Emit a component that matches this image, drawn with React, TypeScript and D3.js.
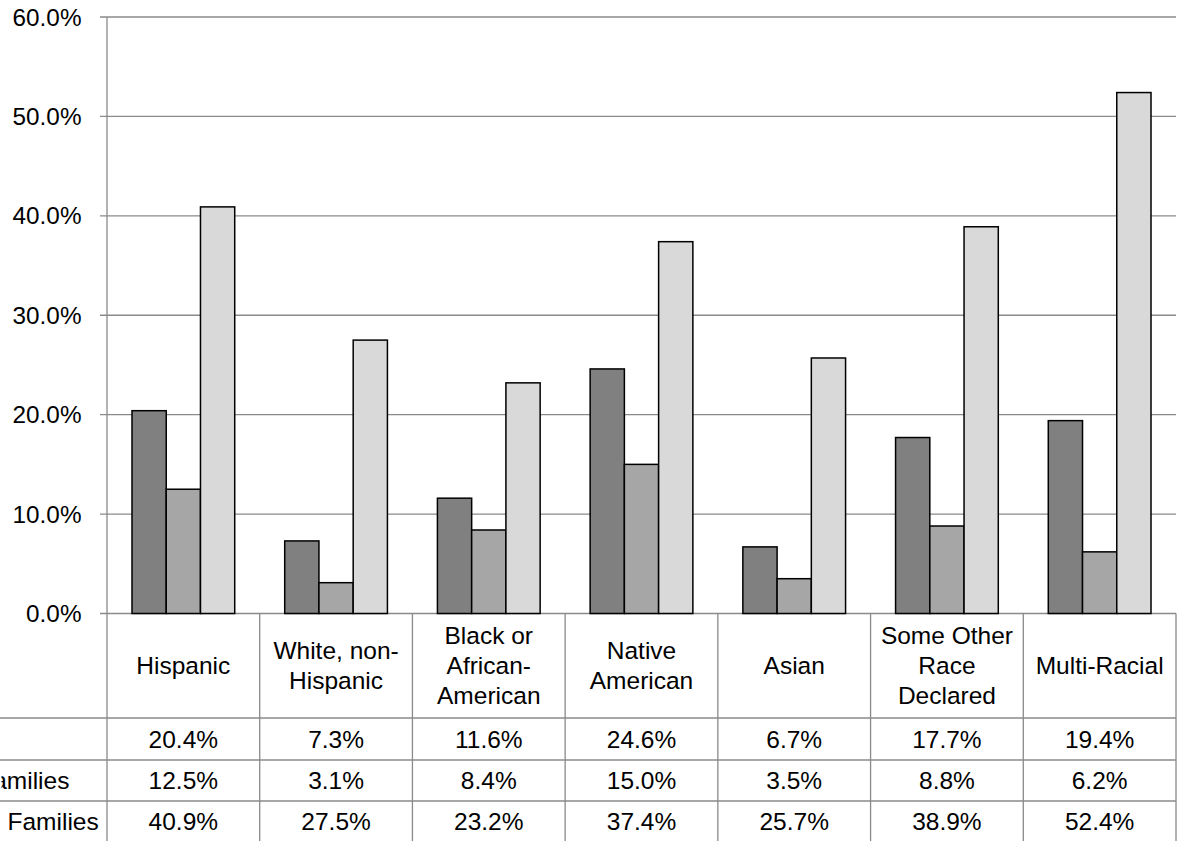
import React from 'react';
import * as d3 from 'd3';

const categoryLines: string[][] = [
  ['Hispanic'],
  ['White, non-', 'Hispanic'],
  ['Black or', 'African-', 'American'],
  ['Native', 'American'],
  ['Asian'],
  ['Some Other', 'Race', 'Declared'],
  ['Multi-Racial'],
];
const categories = categoryLines.map((l) => l.join(' '));
const seriesNames = ['All Families', 'Married-Couple Families', 'Female Householder Families'];
const allFamilies = [20.4, 7.3, 11.6, 24.6, 6.7, 17.7, 19.4];
const marriedCouple = [12.5, 3.1, 8.4, 15.0, 3.5, 8.8, 6.2];
const femaleHouseholder = [40.9, 27.5, 23.2, 37.4, 25.7, 38.9, 52.4];
const seriesValues = [allFamilies, marriedCouple, femaleHouseholder];
const seriesColors = ['#808080', '#a6a6a6', '#d9d9d9'];
const yTicks = [0, 10, 20, 30, 40, 50, 60];

const W = 1177;
const H = 841;
const FONT = "'Liberation Sans', Arial, sans-serif";
const GRID = '#8a8a8a';
const FS = 24.5;

export default function App() {
  const left = 107;
  const right = 1176;
  const top = 17;
  const bottom = 613.5;
  const headerBottom = 718;
  const rowLines = [718, 760, 801, 842];

  const y = d3.scaleLinear().domain([0, 60]).range([bottom, top]);
  const x0 = d3.scaleBand<string>().domain(categories).range([left, right]).paddingInner(0).paddingOuter(0);
  const x1 = d3
    .scaleBand<string>()
    .domain(seriesNames)
    .range([0, x0.bandwidth()])
    .paddingInner(0)
    .paddingOuter(0.73);

  const fmt = (v: number) => d3.format('.1f')(v) + '%';
  const rowHeaderCenter = -64;

  return (
    <svg
      width={W}
      height={H}
      style={{ position: 'absolute', left: 0, top: 0, background: '#fff' }}
      fontFamily={FONT}
    >
      <defs>
        <clipPath id="rowHeaderClip">
          <rect x={1.5} y={rowLines[0]} width={left - 1.5} height={H - rowLines[0] + 2} />
        </clipPath>
      </defs>
      <rect x={0} y={0} width={W} height={H} fill="#fff" />
      {/* gridlines and ticks */}
      {yTicks.map((t) => (
        <g key={t}>
          <line x1={left - 7} x2={right} y1={y(t)} y2={y(t)} stroke={GRID} strokeWidth={1.3} />
          <text x={81.5} y={y(t)} dy="0.35em" textAnchor="end" fontSize={24.3} fill="#000">
            {t.toFixed(1) + '%'}
          </text>
        </g>
      ))}
      {/* y axis line */}
      <line x1={left} x2={left} y1={top} y2={H + 2} stroke={GRID} strokeWidth={1.3} />

      {/* bars */}
      {categories.map((c, ci) => (
        <g key={c} transform={`translate(${x0(c)},0)`}>
          {seriesNames.map((s, si) => {
            const v = seriesValues[si][ci];
            return (
              <rect
                key={s}
                x={x1(s)!}
                y={y(v)}
                width={x1.bandwidth()}
                height={y(0) - y(v)}
                fill={seriesColors[si]}
                stroke="#000"
                strokeWidth={1.5}
              />
            );
          })}
        </g>
      ))}

      {/* data table */}
      {categories.map((c) => {
        const xr = x0(c)! + x0.bandwidth();
        return <line key={'v' + c} x1={xr} x2={xr} y1={bottom} y2={H + 2} stroke={GRID} strokeWidth={1.3} />;
      })}
      {rowLines.map((ry) => (
        <line key={'h' + ry} x1={0} x2={right} y1={ry} y2={ry} stroke={GRID} strokeWidth={1.3} />
      ))}
      {categoryLines.map((lines, ci) => {
        const cx = x0(categories[ci])! + x0.bandwidth() / 2;
        const cy = (bottom + headerBottom) / 2;
        return (
          <text key={'hdr' + ci} textAnchor="middle" fontSize={FS} fill="#000">
            {lines.map((ln, li) => (
              <tspan key={li} x={cx} y={cy + (li - (lines.length - 1) / 2) * 30} dy="0.35em">
                {ln}
              </tspan>
            ))}
          </text>
        );
      })}
      {seriesNames.map((s, si) => {
        const cy = (rowLines[si] + rowLines[si + 1]) / 2;
        return (
          <g key={'row' + s}>
            <text
              x={rowHeaderCenter}
              y={cy}
              dy="0.35em"
              textAnchor="middle"
              fontSize={FS}
              fill="#000"
              clipPath="url(#rowHeaderClip)"
            >
              {s}
            </text>
            {categories.map((c, ci) => (
              <text
                key={c}
                x={x0(c)! + x0.bandwidth() / 2}
                y={cy}
                dy="0.35em"
                textAnchor="middle"
                fontSize={FS}
                fill="#000"
              >
                {fmt(seriesValues[si][ci])}
              </text>
            ))}
          </g>
        );
      })}
    </svg>
  );
}
